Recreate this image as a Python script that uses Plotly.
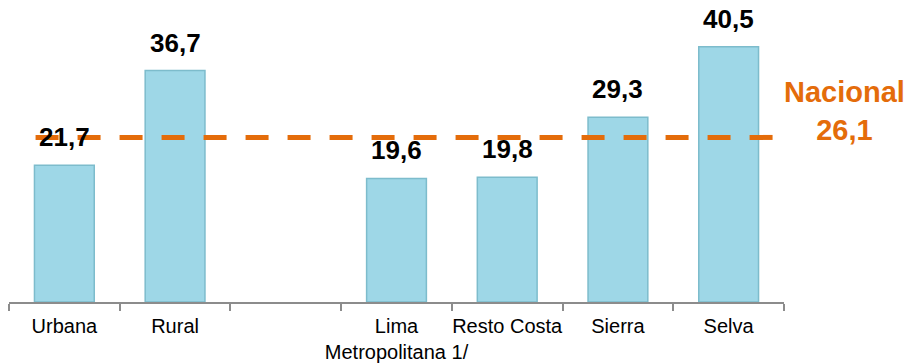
import plotly.graph_objects as go

categories = ["Urbana", "Rural", " ", "Lima<br>Metropolitana 1/", "Resto Costa", "Sierra", "Selva"]
values = [21.7, 36.7, None, 19.6, 19.8, 29.3, 40.5]
value_labels = ["21,7", "36,7", "", "19,6", "19,8", "29,3", "40,5"]
nacional_value = 26.1
nacional_label = "Nacional<br>26,1"

FONT = "Arial, Liberation Sans, sans-serif"
ORANGE = "#E46C0A"

fig = go.Figure()
fig.add_trace(go.Bar(
    x=categories, y=values, width=0.54,
    marker=dict(color="#9ED7E7", line=dict(color="#7DBCCC", width=1.5)),
    hoverinfo="skip",
))

for c, v, t in zip(categories, values, value_labels):
    if v is None:
        continue
    fig.add_annotation(x=c, y=v, text="<b>%s</b>" % t, showarrow=False,
                       yanchor="bottom", yshift=11,
                       font=dict(family=FONT, size=26, color="#000000"))

fig.add_shape(type="line", xref="x", yref="y", x0=-0.26, x1=6.42,
              y0=nacional_value, y1=nacional_value,
              line=dict(color=ORANGE, width=5, dash="23px,19px"))

fig.add_annotation(x=1.078, y=30.3, xref="paper", yref="y", text="<b>%s</b>" % nacional_label,
                   showarrow=False, xanchor="center", yanchor="middle", align="center",
                   font=dict(family=FONT, size=29, color=ORANGE))

fig.update_layout(
    width=914, height=363,
    margin=dict(l=9, r=130, t=0, b=61, autoexpand=False),
    paper_bgcolor="white", plot_bgcolor="white",
    showlegend=False,
    font=dict(family=FONT, size=20, color="#000000"),
    bargap=0.46,
)
fig.update_xaxes(type="category", categoryorder="array", categoryarray=categories,
                 range=[-0.5, 6.5], showline=True, linecolor="#8C8C8C", linewidth=1.5,
                 ticks="outside", tickson="boundaries", ticklen=7, tickcolor="#8C8C8C",
                 tickwidth=1.5, showgrid=False, tickangle=0, automargin=False,
                 ticklabelstandoff=5,
                 tickfont=dict(family=FONT, size=20, color="#000000"))
fig.update_yaxes(range=[0, 47.9], visible=False, showgrid=False, zeroline=False)

fig.write_html("out.html", config={"displayModeBar": False},
               post_script="document.body.style.margin='0';")
